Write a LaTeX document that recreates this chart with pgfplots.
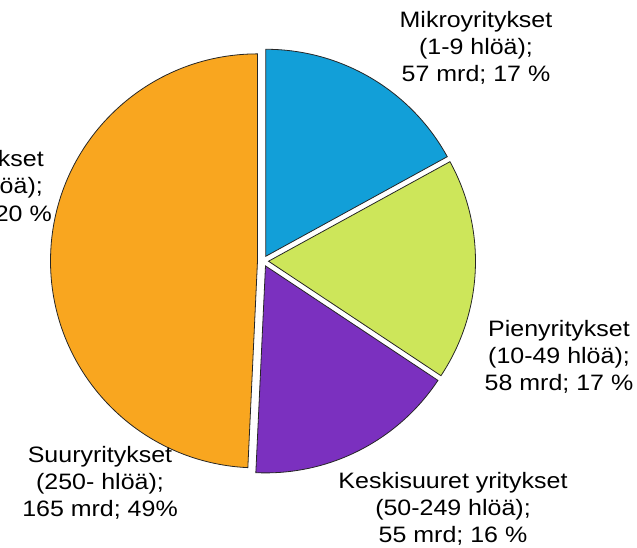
\documentclass[border=0pt]{standalone}
\usepackage{pgfplots}
\usepackage{pgfplotstable}
\pgfplotsset{compat=1.18}
\usepackage{fontspec}
\setmainfont{Liberation Sans}[FakeStretch=1.12]
\definecolor{mikro}{HTML}{129FD8}
\definecolor{pieni}{HTML}{CDE65A}
\definecolor{keski}{HTML}{7B30BF}
\definecolor{suuri}{HTML}{F9A61F}

% value added by size class, billion euros
\pgfplotstableread{
value
57
58
55
165
}\piedata

\newcommand\lbl{\fontsize{22.3}{27}\selectfont}

% #1 start angle, #2 end angle, #3 colour
\newcommand\slice[3]{%
  \pgfmathsetmacro\sx{263+5.5*cos((#1+#2)/2)}%
  \pgfmathsetmacro\sy{286+5.5*sin((#1+#2)/2)}%
  \edef\temp{\noexpand\filldraw[fill=#3, draw=black!85, line width=0.8pt]
    (axis cs:\sx,\sy) -- ++(#1:207pt) arc[start angle=#1, end angle=#2, radius=207pt] -- cycle;}%
  \temp}

\begin{document}
\begin{tikzpicture}
\pgfplotstablegetelem{0}{value}\of\piedata \let\vA\pgfplotsretval
\pgfplotstablegetelem{1}{value}\of\piedata \let\vB\pgfplotsretval
\pgfplotstablegetelem{2}{value}\of\piedata \let\vC\pgfplotsretval
\pgfplotstablegetelem{3}{value}\of\piedata \let\vD\pgfplotsretval
\pgfmathsetmacro\tot{\vA+\vB+\vC+\vD}
\pgfmathsetmacro\aA{90-\vA/\tot*360}
\pgfmathsetmacro\aB{\aA-\vB/\tot*360}
\pgfmathsetmacro\aC{\aB-\vC/\tot*360}
\pgfmathsetmacro\aD{\aC-\vD/\tot*360}
\begin{axis}[
  at={(0,0)}, anchor=south west,
  x=1pt, y=1pt,
  xmin=0, xmax=637, ymin=0, ymax=547,
  hide axis, clip=false,
]
\slice{90}{\aA}{mikro}
\slice{\aA}{\aB}{pieni}
\slice{\aB}{\aC}{keski}
\slice{\aC}{\aD}{suuri}

% anchor=base sits on the last line's baseline
\node[anchor=base, align=center, inner sep=0pt, font=\lbl] at (axis cs:476,465)
  {Mikroyritykset\\(1-9 hlöä);\\57 mrd; 17 \%};
\node[anchor=base, align=center, inner sep=0pt, font=\lbl] at (axis cs:559,157)
  {Pienyritykset\\(10-49 hlöä);\\58 mrd; 17 \%};
\node[anchor=base, align=center, inner sep=0pt, font=\lbl] at (axis cs:453,5)
  {Keskisuuret yritykset\\(50-249 hlöä);\\55 mrd; 16 \%};
\node[anchor=base, align=center, inner sep=0pt, font=\lbl] at (axis cs:100,31)
  {Suuryritykset\\(250- hlöä);\\165 mrd; 49\%};
% label of a slice outside the cropped picture
\node[anchor=base east, inner sep=0pt, font=\lbl] at (axis cs:44,380) {Yritykset};
\node[anchor=base east, inner sep=0pt, font=\lbl] at (axis cs:43,353) {(0 hlöä);};
\node[anchor=base east, inner sep=0pt, font=\lbl] at (axis cs:52,326) {66 mrd; 20 \%};
\end{axis}
\pgfresetboundingbox
\path (0,0) rectangle (637pt,547pt);
\end{tikzpicture}
\end{document}
